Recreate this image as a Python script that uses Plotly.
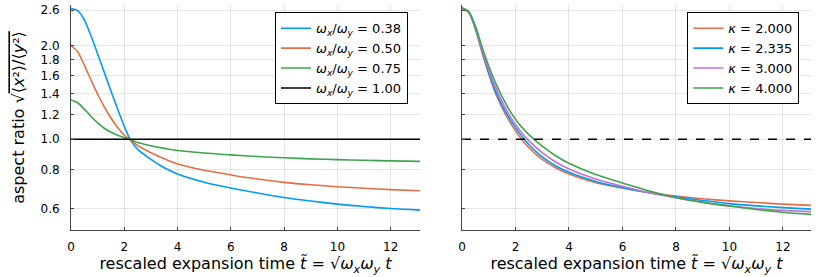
import numpy as np
import plotly.graph_objects as go

# ---------------- data ----------------
t_grid = [0, 0.25, 0.5, 0.75, 1.0, 1.25, 1.5, 1.75, 2.0, 2.25, 2.5, 3.0, 3.5, 4.0,
          5.0, 6.0, 7.0, 8.0, 9.0, 10.0, 11.0, 12.0, 13.1]

# left panel: different trap frequency ratios
v_038 = [2.63, 2.59, 2.42, 2.15, 1.88, 1.64, 1.43, 1.25, 1.10, 0.988, 0.93, 0.862, 0.810, 0.774,
         0.728, 0.697, 0.672, 0.650, 0.633, 0.619, 0.608, 0.599, 0.592]
v_050 = [2.00, 1.91, 1.73, 1.55, 1.395, 1.27, 1.17, 1.09, 1.03, 0.99, 0.955, 0.905, 0.865, 0.833,
         0.795, 0.768, 0.745, 0.727, 0.714, 0.704, 0.696, 0.689, 0.683]
v_075 = [1.337, 1.31, 1.25, 1.185, 1.128, 1.085, 1.053, 1.03, 1.011, 0.996, 0.976, 0.953, 0.935, 0.920,
         0.903, 0.891, 0.880, 0.872, 0.865, 0.860, 0.856, 0.852, 0.849]
v_100 = [1.0] * len(t_grid)
ratio_labels = ["0.38", "0.50", "0.75", "1.00"]

# right panel: different kappa (all at omega_x/omega_y = 0.38)
v_k2000 = [2.64, 2.56, 2.26, 1.90, 1.62, 1.405, 1.26, 1.15, 1.065, 0.995, 0.94, 0.862, 0.81, 0.773,
           0.725, 0.697, 0.673, 0.657, 0.644, 0.634, 0.626, 0.619, 0.613]
v_k2335 = [2.64, 2.56, 2.27, 1.92, 1.635, 1.43, 1.285, 1.175, 1.09, 1.02, 0.962, 0.878, 0.822, 0.783,
           0.732, 0.699, 0.673, 0.653, 0.636, 0.621, 0.611, 0.603, 0.596]
v_k3000 = [2.64, 2.565, 2.29, 1.94, 1.67, 1.47, 1.32, 1.205, 1.115, 1.045, 0.99, 0.905, 0.845, 0.803,
           0.745, 0.706, 0.673, 0.648, 0.627, 0.611, 0.599, 0.591, 0.585]
v_k4000 = [2.64, 2.57, 2.31, 1.98, 1.72, 1.52, 1.37, 1.25, 1.16, 1.09, 1.035, 0.95, 0.885, 0.837,
           0.770, 0.724, 0.682, 0.650, 0.627, 0.610, 0.595, 0.583, 0.573]
kappa_labels = ["2.000", "2.335", "3.000", "4.000"]

t_ref = [0, 13.1]
v_ref = [1.0, 1.0]

y_ticks = [0.6, 0.8, 1.0, 1.2, 1.4, 1.6, 1.8, 2.0, 2.6]
x_ticks = [0, 2, 4, 6, 8, 10, 12]

# ---------------- styling ----------------
BLUE = "#009AFA"
RED = "#E36F47"
GREEN = "#3EA44E"
PURPLE = "#C371D2"
FONT = "DejaVu Sans"
LW = 1.6

fig = go.Figure()

left = [(v_038, BLUE), (v_050, RED), (v_075, GREEN), (v_100, "black")]
for (v, c), lab in zip(left, ratio_labels):
    fig.add_trace(go.Scatter(
        x=t_grid, y=v, mode="lines", line=dict(color=c, width=LW, shape="spline", smoothing=0.8),
        name=f"<i>ω</i><sub><i>x</i></sub>/<i>ω</i><sub><i>y</i></sub> = {lab}",
        xaxis="x", yaxis="y", legend="legend"))

right = [(v_k2000, RED), (v_k2335, BLUE), (v_k3000, PURPLE), (v_k4000, GREEN)]
for (v, c), lab in zip(right, kappa_labels):
    fig.add_trace(go.Scatter(
        x=t_grid, y=v, mode="lines", line=dict(color=c, width=LW, shape="spline", smoothing=0.8),
        name=f"<i>κ</i> = {lab}",
        xaxis="x2", yaxis="y2", legend="legend2"))

fig.add_trace(go.Scatter(
    x=t_ref, y=v_ref, mode="lines", line=dict(color="black", width=LW, dash="dash"),
    showlegend=False, xaxis="x2", yaxis="y2"))

axis_common = dict(
    showgrid=True, gridcolor="rgba(0,0,0,0.1)", gridwidth=1,
    showline=True, linecolor="#444", linewidth=1,
    ticks="inside", ticklen=3, tickcolor="#444",
    zeroline=False, mirror=False, automargin=False,
    tickfont=dict(family=FONT, size=12, color="black"),
)

xtitle = "rescaled expansion time <i>t̃</i> = √<i>ω<sub>x</sub>ω<sub>y</sub></i> <i>t</i>"
ylog_range = [np.log10(0.511), np.log10(2.70)]

fig.update_layout(
    width=830, height=277,
    margin=dict(l=71, r=19, t=5, b=47),
    paper_bgcolor="white", plot_bgcolor="white",
    font=dict(family=FONT, size=12, color="black"),
    xaxis=dict(domain=[0, 0.4716], range=[0, 13.1], tickvals=x_ticks, anchor="y",
               ticklabelstandoff=6,
               title=dict(text=xtitle, font=dict(size=16, family=FONT), standoff=2),
               **axis_common),
    yaxis=dict(type="log", range=ylog_range, tickvals=y_ticks,
               ticktext=[f"{v:.1f}" for v in y_ticks], anchor="x",
               ticklabelstandoff=8,
               title=dict(text="aspect ratio √<span style='text-decoration:overline'>⟨<i>x</i>²⟩/⟨<i>y</i>²⟩</span>",
                          font=dict(size=16, family=FONT), standoff=11),
               **axis_common),
    xaxis2=dict(domain=[0.5284, 1], range=[0, 13.05], tickvals=x_ticks, anchor="y2",
                ticklabelstandoff=6,
                title=dict(text=xtitle, font=dict(size=16, family=FONT), standoff=2),
                **axis_common),
    yaxis2=dict(type="log", range=ylog_range, tickvals=y_ticks, anchor="x2",
                showticklabels=False, **axis_common),
    legend=dict(x=0.4554, xanchor="right", y=0.9676, yanchor="top",
                bgcolor="white", bordercolor="black", borderwidth=1,
                font=dict(family=FONT, size=13), tracegroupgap=0),
    legend2=dict(x=0.9842, xanchor="right", y=0.9676, yanchor="top",
                 bgcolor="white", bordercolor="black", borderwidth=1,
                 font=dict(family=FONT, size=13), tracegroupgap=0),
)

fig.write_html("out.html", config={"displayModeBar": False},
               post_script="document.body.style.margin='0';")
